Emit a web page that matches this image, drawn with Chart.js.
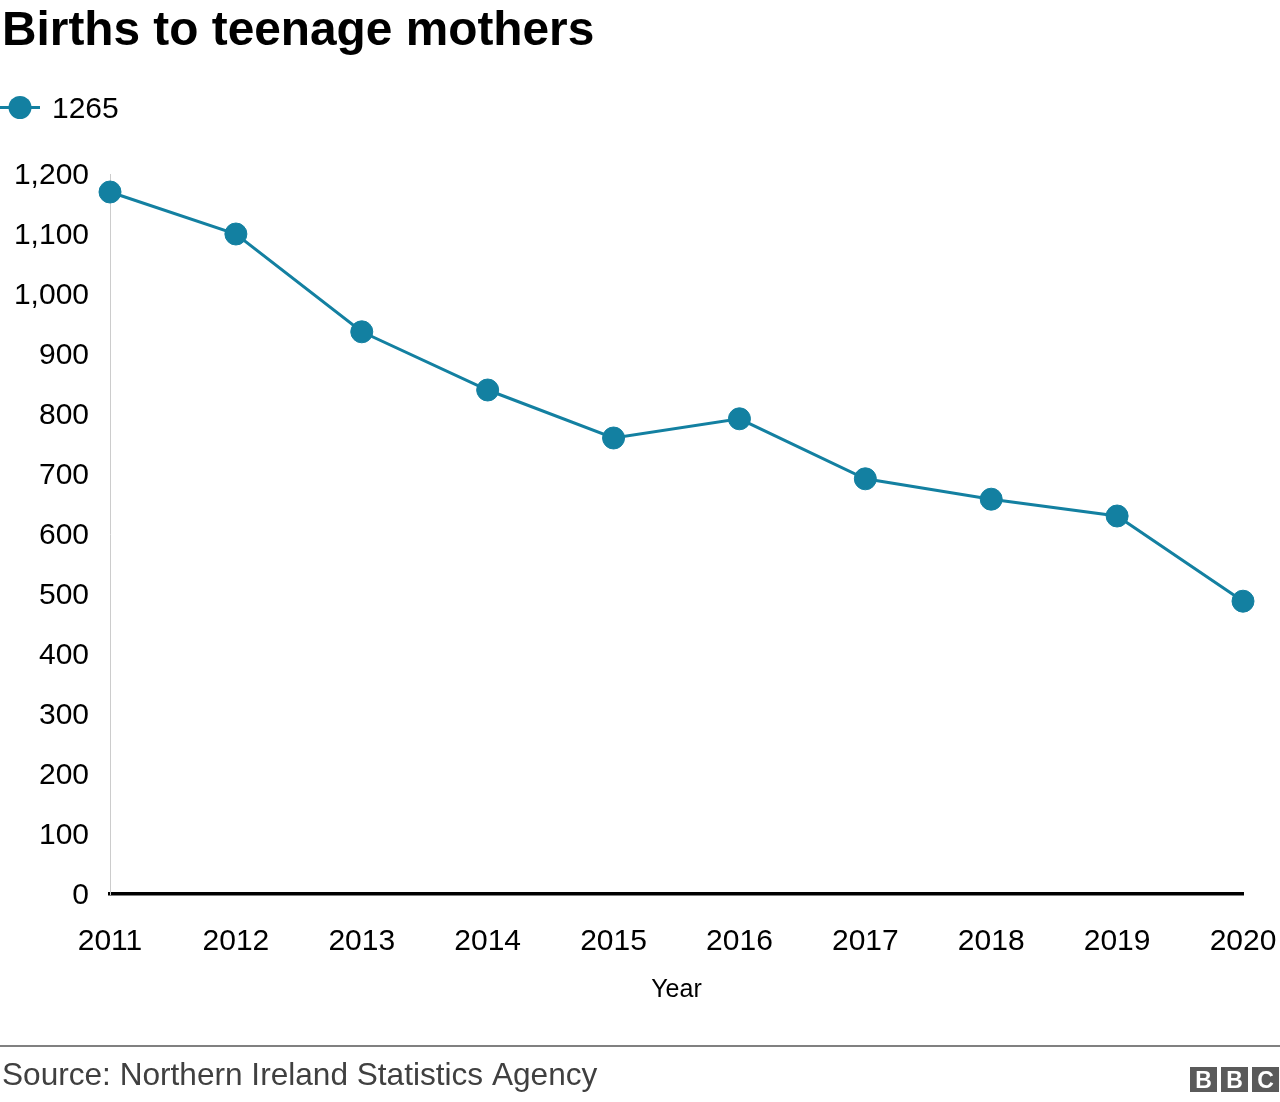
<!DOCTYPE html>
<html>
<head>
<meta charset="utf-8">
<title>Births to teenage mothers</title>
<script src="https://cdn.jsdelivr.net/npm/chart.js@4/dist/chart.umd.min.js"></script>
<style>
  html, body { margin: 0; padding: 0; background: #fff; }
  #wrap { position: relative; width: 1280px; height: 1102px; }
</style>
</head>
<body>
<div id="wrap"><canvas id="chart" width="1280" height="1102"></canvas></div>
<script>
const years = ['2011', '2012', '2013', '2014', '2015', '2016', '2017', '2018', '2019', '2020']
const births = [1170, 1100, 937, 840, 760, 792, 692, 658, 630, 488]
const seriesName = '1265'
const yTicks = [0, 100, 200, 300, 400, 500, 600, 700, 800, 900, 1000, 1100, 1200]

const FONT = "'Liberation Sans', Arial, Helvetica, sans-serif"
const TEAL = '#1380a1'

// title, legend, source line and logo drawn straight on the canvas
const extras = {
  id: 'extras',
  afterDraw(chart) {
    const ctx = chart.ctx
    ctx.save()
    ctx.textBaseline = 'alphabetic'
    ctx.textAlign = 'left'

    ctx.fillStyle = '#000'
    ctx.font = 'bold 47.8px ' + FONT
    ctx.fillText('Births to teenage mothers', 2, 45)

    // legend
    ctx.strokeStyle = TEAL
    ctx.lineWidth = 3
    ctx.beginPath(); ctx.moveTo(0, 107.5); ctx.lineTo(40, 107.5); ctx.stroke()
    ctx.fillStyle = TEAL
    ctx.beginPath(); ctx.arc(20, 107.5, 11.5, 0, Math.PI * 2); ctx.fill()
    ctx.fillStyle = '#000'
    ctx.font = '30px ' + FONT
    ctx.fillText(seriesName, 52, 117.5)

    // footer
    ctx.fillStyle = '#808080'
    ctx.fillRect(0, 1045, 1280, 2)
    ctx.fillStyle = '#404040'
    ctx.font = '31.6px ' + FONT
    ctx.fillText('Source: Northern Ireland Statistics Agency', 2, 1085)

    // BBC blocks
    const xs = [1190, 1221, 1252]
    ctx.font = 'bold 23px ' + FONT
    ctx.textAlign = 'center'
    xs.forEach((x, i) => {
      ctx.fillStyle = '#5a5a5a'
      ctx.fillRect(x, 1067, 27, 25)
      ctx.fillStyle = '#fff'
      ctx.fillText('BBC'[i], x + 13.5, 1088)
    })
    ctx.restore()
  }
}

new Chart(document.getElementById('chart'), {
  type: 'line',
  data: {
    labels: years,
    datasets: [{
      label: seriesName,
      data: births,
      borderColor: TEAL,
      backgroundColor: TEAL,
      borderWidth: 3,
      pointRadius: 11,
      pointBorderWidth: 1,
      pointBackgroundColor: TEAL,
      pointBorderColor: TEAL,
      tension: 0,
      clip: false
    }]
  },
  options: {
    responsive: false,
    animation: false,
    layout: { padding: { left: 0, right: 37, top: 174, bottom: 0 } },
    plugins: { legend: { display: false }, title: { display: false }, tooltip: { enabled: false } },
    scales: {
      x: {
        offset: false,
        grid: { display: false, drawTicks: false },
        border: { display: true, color: '#000', width: 3.5 },
        ticks: { color: '#000', font: { family: FONT, size: 30 }, padding: 30, maxRotation: 0, autoSkip: false },
        title: { display: true, text: 'Year', color: '#000', font: { family: FONT, size: 25 }, padding: { top: 0, bottom: 97 } },
        afterFit(scale) {
          scale.height = 208
          scale.paddingLeft = 0
          scale.paddingRight = 0
        }
      },
      y: {
        min: 0,
        max: 1200,
        grid: { display: false, drawTicks: false },
        border: { display: true, color: '#cccccc', width: 1 },
        afterBuildTicks(scale) { scale.ticks = yTicks.map(v => ({ value: v })) },
        ticks: {
          color: '#000',
          font: { family: FONT, size: 30 },
          padding: 21,
          labelOffset: 2,
          callback: v => v.toLocaleString('en-GB')
        },
        afterFit(scale) { scale.width = 110 }
      }
    }
  },
  plugins: [extras]
})
</script>
</body>
</html>
